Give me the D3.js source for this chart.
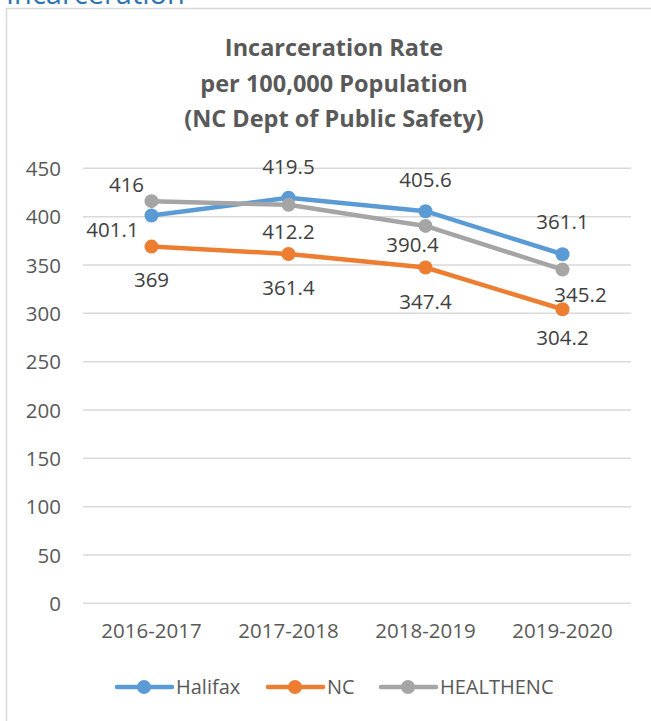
<!DOCTYPE html>
<html>
<head>
<meta charset="utf-8">
<script src="https://cdn.jsdelivr.net/npm/d3@7"></script>
<style>
  html, body { margin: 0; padding: 0; background: #fff; }
  svg { display: block; }
</style>
</head>
<body>
<svg id="chart" width="651" height="721"></svg>
<script>
const categories = ["2016-2017", "2017-2018", "2018-2019", "2019-2020"];
const halifax = [401.1, 419.5, 405.6, 361.1];
const nc = [369, 361.4, 347.4, 304.2];
const healthenc = [416, 412.2, 390.4, 345.2];
const yTicks = [0, 50, 100, 150, 200, 250, 300, 350, 400, 450];
const titleLines = ["Incarceration Rate", "per 100,000 Population", "(NC Dept of Public Safety)"];

const series = [
  { name: "Halifax", values: halifax, color: "#5B9BD5",
    offsets: [[-39, 14], [0, -31], [0, -31], [0, -32]] },
  { name: "NC", values: nc, color: "#ED7D31",
    offsets: [[0, 33], [0, 34], [0, 34], [0, 29]] },
  { name: "HEALTHENC", values: healthenc, color: "#A5A5A5",
    offsets: [[-25, -16], [0, 27], [-13, 19], [18, 25]] }
];

const FONT = "'Open Sans', 'Noto Sans', sans-serif";
const svg = d3.select("#chart");

// Page heading (cut off at top)
svg.append("text").attr("x", 6).attr("y", 4)
  .attr("font-family", FONT).attr("font-size", 29)
  .attr("fill", "#2E74B5").text("Incarceration");

// Chart frame
svg.append("rect").attr("x", 6.5).attr("y", 8.5).attr("width", 660).attr("height", 730)
  .attr("fill", "#fff").attr("stroke", "#D9D9D9").attr("stroke-width", 1.5);

// Title
const title = svg.append("text").attr("text-anchor", "middle")
  .attr("font-family", FONT).attr("font-weight", "bold")
  .attr("font-size", 23.5).attr("fill", "#595959");
titleLines.forEach((t, i) => {
  title.append("tspan").attr("x", 334).attr("y", 56 + i * 35.5).text(t);
});

const x = d3.scaleBand().domain(categories).range([83, 631]);
const y = d3.scaleLinear().domain([0, 450]).range([603.3, 168.3]);

// Gridlines
svg.append("g").selectAll("line").data(yTicks).join("line")
  .attr("x1", 83).attr("x2", 631)
  .attr("y1", d => y(d)).attr("y2", d => y(d))
  .attr("stroke", "#D9D9D9").attr("stroke-width", 1.5);

// Y axis
const yAxis = svg.append("g").attr("transform", "translate(61,0)")
  .call(d3.axisLeft(y).tickValues(yTicks).tickSize(0).tickPadding(0));
yAxis.select(".domain").remove();
yAxis.selectAll("text").attr("font-family", FONT).attr("font-size", 20.5)
  .attr("fill", "#595959").attr("dy", "0.35em");

// X axis
const xAxis = svg.append("g").attr("transform", "translate(0,603.3)")
  .call(d3.axisBottom(x).tickSize(0).tickPadding(20));
xAxis.select(".domain").remove();
xAxis.selectAll("text").attr("font-family", FONT).attr("font-size", 20.5)
  .attr("fill", "#595959");

const cx = c => x(c) + x.bandwidth() / 2;
const line = d3.line().x((d, i) => cx(categories[i])).y(d => y(d));

series.forEach(s => {
  svg.append("path").datum(s.values).attr("d", line)
    .attr("fill", "none").attr("stroke", s.color)
    .attr("stroke-width", 4.5).attr("stroke-linejoin", "round").attr("stroke-linecap", "round");
  svg.append("g").selectAll("circle").data(s.values).join("circle")
    .attr("cx", (d, i) => cx(categories[i])).attr("cy", d => y(d))
    .attr("r", 7).attr("fill", s.color);
});

series.forEach(s => {
  svg.append("g").selectAll("text").data(s.values).join("text")
    .attr("x", (d, i) => cx(categories[i]) + s.offsets[i][0])
    .attr("y", (d, i) => y(d) + s.offsets[i][1])
    .attr("dy", "0.35em").attr("text-anchor", "middle")
    .attr("font-family", FONT).attr("font-size", 20.5).attr("fill", "#404040")
    .text(d => d);
});

// Legend
const legendX = [117, 268, 381];
const lg = svg.append("g");
series.forEach((s, i) => {
  const g = lg.append("g").attr("transform", `translate(${legendX[i]},687)`);
  g.append("line").attr("x1", 0).attr("x2", 55).attr("y1", 0).attr("y2", 0)
    .attr("stroke", s.color).attr("stroke-width", 4.5).attr("stroke-linecap", "round");
  g.append("circle").attr("cx", 27).attr("cy", 0).attr("r", 7).attr("fill", s.color);
  g.append("text").attr("x", 59).attr("y", 0).attr("dy", "0.35em")
    .attr("font-family", FONT).attr("font-size", 20).attr("fill", "#595959").text(s.name);
});
</script>
</body>
</html>
